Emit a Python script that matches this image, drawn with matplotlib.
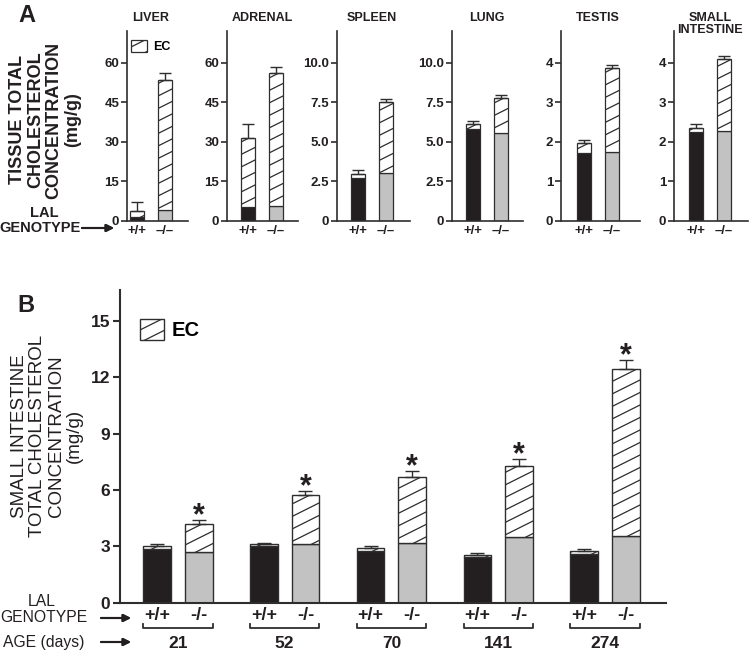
import matplotlib
matplotlib.use('Agg')
import matplotlib.pyplot as plt
import matplotlib.hatch as mhatch
from matplotlib.path import Path
from matplotlib.patches import Patch
import numpy as np

# ---------------- data ----------------
# panel A: tissue total cholesterol, free cholesterol (solid) + EC (hatched)
organs = ['LIVER', 'ADRENAL', 'SPLEEN', 'LUNG', 'TESTIS', 'SMALL\nINTESTINE']
wt_fc = [1.65, 5.2, 2.69, 5.78, 1.71, 2.25]
wt_total = [3.7, 31.5, 2.96, 6.15, 1.96, 2.36]
wt_err = [3.4, 5.2, 0.25, 0.17, 0.08, 0.08]
ko_fc = [4.2, 5.7, 3.05, 5.55, 1.75, 2.27]
ko_total = [53.5, 56.2, 7.52, 7.78, 3.87, 4.1]
ko_err = [2.6, 2.1, 0.17, 0.15, 0.08, 0.08]
a_ymax = [72, 72, 12, 12, 4.8, 4.8]
a_ticks = [[0, 15, 30, 45, 60], [0, 15, 30, 45, 60],
           [0, 2.5, 5, 7.5, 10], [0, 2.5, 5, 7.5, 10],
           [0, 1, 2, 3, 4], [0, 1, 2, 3, 4]]
a_ticklabels = [['0', '15', '30', '45', '60'], ['0', '15', '30', '45', '60'],
                ['0', '2.5', '5.0', '7.5', '10.0'], ['0', '2.5', '5.0', '7.5', '10.0'],
                ['0', '1', '2', '3', '4'], ['0', '1', '2', '3', '4']]

# panel B: small intestine by age
ages = ['21', '52', '70', '141', '274']
b_wt_fc = [2.85, 3.0, 2.75, 2.45, 2.6]
b_wt_total = [3.0, 3.1, 2.9, 2.54, 2.75]
b_wt_err = [0.12, 0.1, 0.1, 0.1, 0.12]
b_ko_fc = [2.72, 3.11, 3.2, 3.48, 3.55]
b_ko_total = [4.17, 5.73, 6.71, 7.3, 12.45]
b_ko_err = [0.22, 0.22, 0.3, 0.35, 0.45]
b_ticks = [0, 3, 6, 9, 12, 15]

# ---------------- style ----------------
plt.rcParams['font.family'] = ['Liberation Sans', 'DejaVu Sans']
plt.rcParams['hatch.linewidth'] = 0.9
TXT = '#231f20'
EDGE = '#2e2e2e'
BLACK = '#231f20'
GRAY = '#c2c2c2'


# shallow "/" hatch (about 1:2 slope) as in the printed figure
class SlantHatch(mhatch.HatchPatternBase):
    def __init__(self, hatch, density):
        self.ks = list(range(-5, 10)) if '/' in hatch else []
        self.num_vertices = 2 * len(self.ks)

    def set_vertices_and_codes(self, vertices, codes):
        n = 8.0
        for i, k in enumerate(self.ks):
            c = k / n
            vertices[2 * i] = (-0.1, c - 0.05)
            vertices[2 * i + 1] = (1.1, c + 0.55)
            codes[2 * i] = Path.MOVETO
            codes[2 * i + 1] = Path.LINETO


mhatch._hatch_types[mhatch._hatch_types.index(mhatch.NorthEastHatch)] = SlantHatch

W, H = 749, 658
fig = plt.figure(figsize=(W / 100, H / 100), dpi=100)


def box(l, t, r, b):
    return [l / W, 1 - b / H, (r - l) / W, (b - t) / H]


def style_axes(ax, lw):
    for s in ['top', 'right']:
        ax.spines[s].set_visible(False)
    for s in ['left', 'bottom']:
        ax.spines[s].set_linewidth(lw)
        ax.spines[s].set_color(EDGE)


# ---------------- panel A ----------------
# axis left, first bar centre, spine end (pixels)
a_geom = [(127, 137, 188), (227, 248, 298), (337, 357.5, 410),
          (452, 472.5, 523), (561, 584, 640), (674, 696, 748)]
unit = 28.0
for i in range(6):
    L, c1, R = a_geom[i]
    ax = fig.add_axes(box(L, 31, R, 221))
    style_axes(ax, 1.2)
    x = np.array([0, 1])
    fc = np.array([wt_fc[i], ko_fc[i]])
    tot = np.array([wt_total[i], ko_total[i]])
    ax.bar(x, fc, width=0.5, color=[BLACK, GRAY], edgecolor=EDGE, linewidth=0.9)
    ax.bar(x, tot - fc, bottom=fc, width=0.5, color='white', edgecolor=EDGE,
           linewidth=0.9, hatch='/')
    ax.errorbar(x, tot, yerr=[[0, 0], [wt_err[i], ko_err[i]]], fmt='none',
                ecolor=EDGE, elinewidth=1, capsize=4, capthick=1)
    ax.set_xlim((L - c1) / unit, (R - c1) / unit)
    ax.set_ylim(0, a_ymax[i])
    ax.set_yticks(a_ticks[i])
    ax.set_yticklabels(a_ticklabels[i])
    ax.set_xticks(x)
    ax.set_xticklabels(['+/+', '\u2013/\u2013'])
    ax.tick_params(axis='y', direction='out', length=4, width=1.2, color=EDGE,
                   labelsize=9.5, pad=1.5, labelcolor=TXT)
    ax.tick_params(axis='x', length=0, labelsize=9.5, pad=3, labelcolor=TXT)
    for t in ax.get_xticklabels() + ax.get_yticklabels():
        t.set_fontweight('bold')
    fig.text((c1 + unit / 2) / W, 1 - 12 / H, organs[i], ha='center', va='top',
             fontsize=9, fontweight='bold', color=TXT, linespacing=1.0)
    if i == 0:
        ax.legend(handles=[Patch(facecolor='white', edgecolor=EDGE, hatch='/', linewidth=0.9)],
                  labels=['EC'], loc='upper left', bbox_to_anchor=(131 / W, 1 - 40 / H),
                  bbox_transform=fig.transFigure, frameon=False, borderpad=0,
                  borderaxespad=0, handlelength=1.25, handleheight=1.15,
                  handletextpad=0.5, prop={'size': 9, 'weight': 'bold'})

fig.text(27 / W, 1 - 15 / H, 'A', ha='center', va='center', fontsize=17,
         fontweight='bold', color=TXT)
fig.text(45 / W, 1 - 120 / H, 'TISSUE TOTAL\nCHOLESTEROL\nCONCENTRATION\n(mg/g)',
         rotation=90, ha='center', va='center', fontsize=13, fontweight='bold',
         color=TXT, linespacing=1.1)
fig.text(44 / W, 1 - 213 / H, 'LAL', ha='center', va='center', fontsize=10.5,
         fontweight='bold', color=TXT)
fig.text(40 / W, 1 - 228 / H, 'GENOTYPE', ha='center', va='center', fontsize=10.5,
         fontweight='bold', color=TXT)
fig.add_artist(plt.annotate('', xy=(114 / W, 1 - 228 / H), xytext=(82 / W, 1 - 228 / H),
                            xycoords='figure fraction',
                            arrowprops=dict(arrowstyle='-|>', lw=1.5, color=TXT,
                                            mutation_scale=11, shrinkA=0, shrinkB=0)))

# ---------------- panel B ----------------
axb = fig.add_axes(box(120, 290, 666, 602.7))
style_axes(axb, 1.5)
gx = np.arange(len(ages))
off = 0.39
bw = 0.26
kx = gx + off
axb.bar(gx, b_wt_fc, width=bw, color=BLACK, edgecolor=EDGE, linewidth=1)
axb.bar(gx, np.array(b_wt_total) - np.array(b_wt_fc), bottom=b_wt_fc, width=bw,
        color='white', edgecolor=EDGE, linewidth=1, hatch='/')
axb.bar(kx, b_ko_fc, width=bw, color=GRAY, edgecolor=EDGE, linewidth=1)
axb.bar(kx, np.array(b_ko_total) - np.array(b_ko_fc), bottom=b_ko_fc, width=bw,
        color='white', edgecolor=EDGE, linewidth=1, hatch='/')
axb.errorbar(gx, b_wt_total, yerr=[np.zeros(5), b_wt_err], fmt='none', ecolor=EDGE,
             elinewidth=1, capsize=5, capthick=1)
axb.errorbar(kx, b_ko_total, yerr=[np.zeros(5), b_ko_err], fmt='none', ecolor=EDGE,
             elinewidth=1, capsize=5, capthick=1)
for xi, t, e in zip(kx, b_ko_total, b_ko_err):
    axb.annotate('*', xy=(xi, t + e), xytext=(0, -3), textcoords='offset points',
                 ha='center', va='baseline', fontsize=22, fontweight='bold', color=TXT)

axb.set_xlim((120 - 157) / 106.8, (666 - 157) / 106.8)
axb.set_ylim(0, 16.65)
axb.set_yticks(b_ticks)
axb.set_yticklabels([str(v) for v in b_ticks])
axb.set_xticks(np.concatenate([gx, kx]))
axb.set_xticklabels(['+/+'] * 5 + ['-/-'] * 5)
axb.tick_params(axis='y', direction='out', length=5, width=1.5, color=EDGE,
                labelsize=12.5, pad=2, labelcolor=TXT)
axb.tick_params(axis='x', length=0, labelsize=13, pad=3, labelcolor=TXT)
for t in axb.get_xticklabels() + axb.get_yticklabels():
    t.set_fontweight('bold')

tr = axb.get_xaxis_transform()
yb = (602.7 - 628) / (602.7 - 290)
dy = 4 / (602.7 - 290)
yage = (602.7 - 644) / (602.7 - 290)
for g in range(len(ages)):
    x0 = gx[g] - bw / 2
    x1 = kx[g] + bw / 2
    axb.plot([x0, x0, x1, x1], [yb + dy, yb, yb, yb + dy], transform=tr,
             clip_on=False, color=EDGE, lw=1.3)
    axb.text((gx[g] + kx[g]) / 2, yage, ages[g], transform=tr, ha='center',
             va='center', fontsize=12.5, fontweight='bold', color=TXT)

axb.legend(handles=[Patch(facecolor='white', edgecolor=EDGE, hatch='/', linewidth=1)],
           labels=['EC'], loc='upper left', bbox_to_anchor=(140 / W, 1 - 319 / H),
           bbox_transform=fig.transFigure, frameon=False, borderpad=0,
           borderaxespad=0, handlelength=1.2, handleheight=1.2,
           handletextpad=0.35, prop={'size': 14.5, 'weight': 'bold'})

fig.text(26 / W, 1 - 306 / H, 'B', ha='center', va='center', fontsize=17,
         fontweight='bold', color=TXT)
fig.text(47 / W, 1 - 436 / H,
         'SMALL INTESTINE\nTOTAL CHOLESTEROL\nCONCENTRATION\n(mg/g)',
         rotation=90, ha='center', va='center', fontsize=13.5, color=TXT,
         linespacing=1.08)
fig.text(42 / W, 1 - 601 / H, 'LAL', ha='center', va='center', fontsize=11.3, color=TXT)
fig.text(44 / W, 1 - 618 / H, 'GENOTYPE', ha='center', va='center', fontsize=11.3,
         color=TXT)
fig.text(44 / W, 1 - 643 / H, 'AGE (days)', ha='center', va='center', fontsize=11.3,
         color=TXT)
for yy in [618, 642]:
    fig.add_artist(plt.annotate('', xy=(131 / W, 1 - yy / H), xytext=(101 / W, 1 - yy / H),
                                xycoords='figure fraction',
                                arrowprops=dict(arrowstyle='-|>', lw=1.5, color=TXT,
                                                mutation_scale=11, shrinkA=0, shrinkB=0)))

fig.savefig('out.png', dpi=100)
